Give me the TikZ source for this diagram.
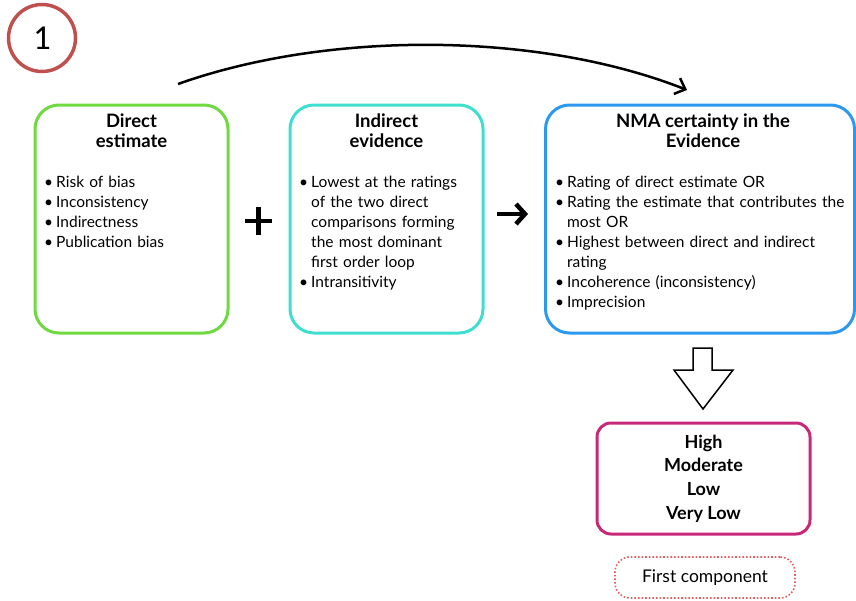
\documentclass[tikz,border=0pt]{standalone}
\usepackage{fontspec}
\setmainfont{Lato}
\newfontfamily\numfont{Carlito}
\usetikzlibrary{arrows.meta}

\definecolor{boxgreen}{RGB}{110,218,64}
\definecolor{boxteal}{RGB}{64,222,206}
\definecolor{boxblue}{RGB}{44,152,238}
\definecolor{boxpink}{RGB}{200,40,122}
\definecolor{dotred}{RGB}{228,96,96}
\definecolor{ringred}{RGB}{192,80,77}

% bullet item with hanging indent; \nl breaks a line inside the item
\newcommand\bitem{\par\hangindent=12pt\hangafter=1\noindent\makebox[12pt][l]{\textbullet}}
\newcommand\nl{\hfil\break}

\begin{document}
\begin{tikzpicture}[x=1pt,y=-1pt,
  panel/.style={draw, rounded corners=24pt, line width=3pt, minimum height=228pt, inner sep=0pt},
  paneltitle/.style={anchor=north, align=center, inner sep=0pt, font=\fontsize{18.5}{20}\selectfont\bfseries},
  panellist/.style={anchor=north west, align=left, inner sep=0pt, font=\fontsize{15.5}{20}\selectfont},
  symbol/.style={line width=4.5pt},
]
\useasboundingbox (0,0) rectangle (856,600);

% step number
\node[circle, draw=ringred, line width=3.5pt, minimum size=67pt, inner sep=0pt,
      font=\numfont\fontsize{35}{35}\selectfont] (num) at (42,38) {1};

% three panels
\node[panel, draw=boxgreen, minimum width=193pt] (direct) at (131.5,219) {};
\node[panel, draw=boxteal, minimum width=193pt] (indirect) at (386.5,219) {};
\node[panel, draw=boxblue, minimum width=309pt] (nma) at (700,219) {};

\node[paneltitle] (directT) at (131.5,113.5) {Direct\\estimate};
\node[paneltitle] (indirectT) at (386.5,113.5) {Indirect\\evidence};
\node[paneltitle] (nmaT) at (703,113.5) {NMA certainty in the\\Evidence};

\node[panellist, text width=182pt] (directL) at (44,167) {%
  \bitem Risk of bias
  \bitem Inconsistency
  \bitem Indirectness
  \bitem Publication bias};
\node[panellist, text width=186pt] (indirectL) at (299,167) {%
  \bitem Lowest at the ratings\nl of the two direct\nl comparisons forming\nl the most dominant\nl first order loop
  \bitem Intransitivity};
\node[panellist, text width=300pt] (nmaL) at (555,167) {%
  \bitem Rating of direct estimate OR
  \bitem Rating the estimate that contributes the\nl most OR
  \bitem Highest between direct and indirect\nl rating
  \bitem Incoherence (inconsistency)
  \bitem Imprecision};

% plus sign between the first two panels
\coordinate (plusL) at (245,221);
\coordinate (plusR) at (272,221);
\coordinate (plusT) at (258.5,207);
\coordinate (plusB) at (258.5,235);
\draw[symbol] (plusL) -- (plusR);
\draw[symbol] (plusT) -- (plusB);

% arrow into the certainty panel
\coordinate (arrS) at (497,214);
\coordinate (arrE) at (528,214);
\draw[symbol, -{Straight Barb[length=9pt,width=20pt]}] (arrS) -- (arrE);

% curved arrow over the panels
\coordinate (arcS) at (178,84);
\coordinate (arcE) at (687,90);
\draw[line width=2.5pt, -{Straight Barb[length=9pt,width=17pt]}]
  (arcS) .. controls (330,30) and (540,32) .. (arcE);

% hollow down arrow
\coordinate (dA) at (693,348);
\coordinate (dB) at (712,348);
\coordinate (dC) at (712,370);
\coordinate (dD) at (733,370);
\coordinate (dTip) at (703,409);
\coordinate (dE) at (674,370);
\coordinate (dF) at (693,370);
\draw[line width=1.5pt, line join=miter] (dA) -- (dB) -- (dC) -- (dD) -- (dTip) -- (dE) -- (dF) -- cycle;

% rating levels
\node[draw=boxpink, line width=3pt, rounded corners=14pt, minimum width=213pt, minimum height=111pt,
      align=center, inner sep=0pt, font=\fontsize{18}{23.7}\selectfont\bfseries] (levels) at (703.5,478.5)
  {High\\Moderate\\Low\\Very Low};

% component label
\node[draw=dotred, dotted, line width=1.6pt, rounded corners=15pt, minimum width=180pt, minimum height=41pt,
      inner sep=0pt, font=\fontsize{17.5}{20}\selectfont] (comp) at (705,577.5) {First component};
\end{tikzpicture}
\end{document}
